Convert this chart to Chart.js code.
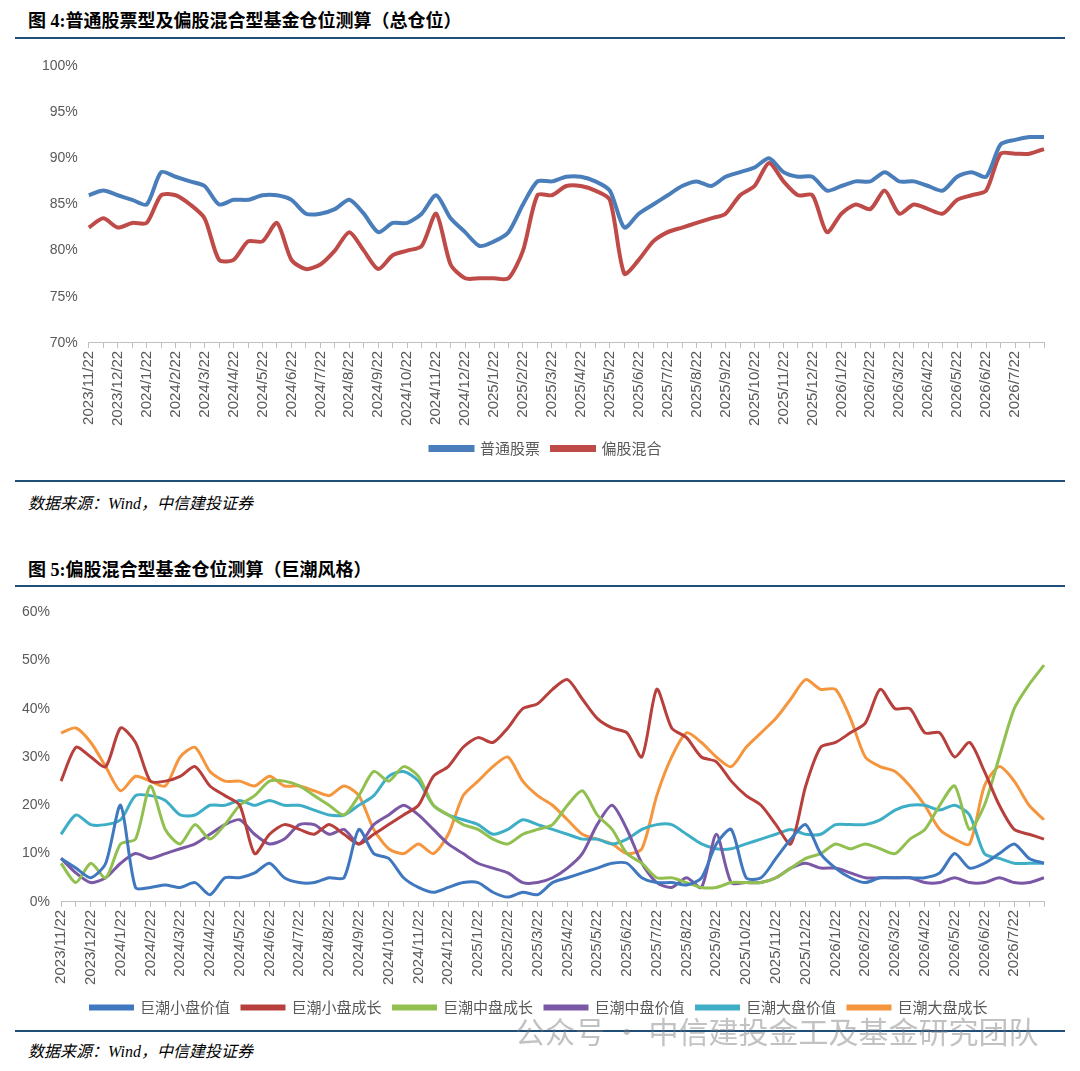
<!DOCTYPE html>
<html lang="zh-CN">
<head>
<meta charset="UTF-8">
<title>仓位测算</title>
<style>
  body { margin: 0; background: #fff; width: 1080px; height: 1071px; position: relative; overflow: hidden; font-family: "Noto Sans CJK SC", sans-serif; }
  .title { position: absolute; left: 28px; font-family: "Liberation Serif", "Noto Sans CJK SC", serif; font-weight: bold; font-size: 18px; color: #000; }
  .rule { position: absolute; left: 15px; width: 1050px; height: 2px; background: #1f4e79; }
  .src { position: absolute; left: 28px; font-family: "Liberation Serif", "Noto Sans CJK SC", serif; font-style: italic; font-size: 16px; color: #000; }
  .box { position: absolute; left: 15px; width: 1050px; }
  .wm { position: absolute; left: 515px; top: 1008px; font-size: 30px; color: rgba(120,120,120,0.45); }
</style>
</head>
<body>
<div class="title" style="top:6px">图 4:普通股票型及偏股混合型基金仓位测算（总仓位）</div>
<div class="rule" style="top:37px"></div>
<div class="box" style="top:42px;height:430px"><canvas id="grafico1"></canvas></div>
<div class="rule" style="top:480px"></div>
<div class="src" style="top:490px">数据来源：Wind，中信建投证券</div>

<div class="title" style="top:555px">图 5:偏股混合型基金仓位测算（巨潮风格）</div>
<div class="rule" style="top:585px"></div>
<div class="box" style="top:590px;height:435px"><canvas id="grafico2"></canvas></div>
<div class="rule" style="top:1030px"></div>
<div class="src" style="top:1038px">数据来源：Wind，中信建投证券</div>
<div class="wm">公众号 · 中信建投金工及基金研究团队</div>

<script src="https://cdn.jsdelivr.net/npm/chart.js"></script>
<script>
  const ticksX = ["2023/11/22","2023/12/22","2024/1/22","2024/2/22","2024/3/22","2024/4/22","2024/5/22","2024/6/22","2024/7/22","2024/8/22","2024/9/22","2024/10/22","2024/11/22","2024/12/22","2025/1/22","2025/2/22","2025/3/22","2025/4/22","2025/5/22","2025/6/22","2025/7/22","2025/8/22","2025/9/22","2025/10/22","2025/11/22","2025/12/22","2026/1/22","2026/2/22","2026/3/22","2026/4/22","2026/5/22","2026/6/22","2026/7/22"]

  const putong = [86,86.5,86,85.5,85,88.5,88,87.5,87,85, 85.5,85.5,86,86,85.5,84,84,84.5,85.5,84, 82,83,83,84,86,83.5,82,80.5,81,82, 85,87.5,87.5,88,88,87.5,86.5,82.5,84,85, 86,87,87.5,87,88,88.5,89,90,88.5,88, 88,86.5,87,87.5,87.5,88.5,87.5,87.5,87,86.5, 88,88.5,88,91.5,92,92.3,92.3]
  const piangu = [82.5,83.5,82.5,83,83,86,86,85,83.5,79, 79,81,81,83,79,78,78.5,80,82,80, 78,79.5,80,80.5,84,78.5,77,77,77,77, 80,86,86,87,87,86.5,85.5,77.5,79,81, 82,82.5,83,83.5,84,86,87,89.5,87.5,86, 86,82,84,85,84.5,86.5,84,85,84.5,84, 85.5,86,86.5,90.5,90.5,90.5,91]

  const xpjz = [9,7,5,8,20,3,3,3.5,3,4, 1.5,5,5,6,8,5,4,4,5,5, 15,10,9,5,3,2,3,4,4,2, 1,2,1.5,4,5,6,7,8,8,5, 4,4,3.5,5,12,15,5,5,9,13, 16,10,7,5,4,5,5,5,5,6, 10,7,8,10,12,9,8]
  const xpcz = [25,32,30,28,36,33,25,25,26,28, 24,22,20,10,14,16,15,14,16,14, 12,14,16,18,20,26,28,32,34,33, 36,40,41,44,46,42,38,36,35,30, 44,36,34,30,29,25,22,20,16,12, 24,32,33,35,37,44,40,40,35,35, 30,33,27,20,15,14,13]
  const zpcz = [8,4,8,5,12,13,24,15,12,16, 13,16,20,22,25,25,24,22,20,18, 22,27,25,28,26,20,18,16,15,13, 12,14,15,16,20,23,18,15,10,8, 5,5,4,3,3,4,4,4,5,7, 9,10,12,11,12,11,10,13,15,20, 24,15,20,30,40,45,49]
  const zpjz = [9,6,4,5,8,10,9,10,11,12, 14,16,17,14,12,13,16,16,14,15, 12,16,18,20,18,15,12,10,8,7, 6,4,4,5,7,10,16,20,15,8, 4,3,5,3,14,4,4,4,5,7, 8,7,7,6,5,5,5,5,4,4, 5,4,4,5,4,4,5]
  const dpjz = [14,18,16,16,17,22,22,21,18,18, 20,20,21,20,21,20,20,19,18,18, 20,22,26,27,25,20,18,17,16,14, 15,17,16,15,14,13,13,12,13,15, 16,16,14,12,11,11,12,13,14,15, 14,14,16,16,16,17,19,20,20,19, 20,18,10,9,8,8,8]
  const dpcz = [35,36,33,28,23,26,25,24,30,32, 27,25,25,24,26,24,24,23,22,24, 22,15,11,10,12,10,14,22,25,28, 30,25,22,20,17,14,13,12,10,11, 22,30,35,33,30,28,32,35,38,42, 46,44,44,38,30,28,27,24,20,15, 13,12,24,28,25,20,17]

  // half-month points: tick label then an unlabelled midpoint
  let labelsX = []
  ticksX.forEach(t => { labelsX.push(t); labelsX.push('') })
  while (labelsX.length < putong.length) labelsX.push('')

  const tickFont = { family: "Liberation Sans, Noto Sans CJK SC", size: 14 }
  const xFont = { family: "Liberation Sans, Noto Sans CJK SC", size: 15 }

  let eixoX = {
    offset: false,
    grid: { display: true, drawOnChartArea: false, color: '#bfbfbf', tickLength: 5 },
    border: { color: '#bfbfbf' },
    ticks: { autoSkip: false, maxRotation: 90, minRotation: 90, color: '#595959', font: xFont }
  }

  let legenda = {
    position: 'bottom',
    labels: { boxWidth: 42, boxHeight: 3, color: '#595959', font: { family: "Noto Sans CJK SC", size: 15 }, padding: 12 }
  }

  let grafico1 = new Chart(document.getElementById('grafico1'), {
    type: 'line',
    data: {
      labels: labelsX,
      datasets: [
        { label: '普通股票', data: putong, borderColor: '#4a7ebb', backgroundColor: '#4a7ebb', borderWidth: 4, pointRadius: 0, tension: 0.25 },
        { label: '偏股混合', data: piangu, borderColor: '#be4b48', backgroundColor: '#be4b48', borderWidth: 4, pointRadius: 0, tension: 0.25 }
      ]
    },
    options: {
      animation: false, responsive: true, maintainAspectRatio: false,
      layout: { padding: { left: 24, right: 12, top: 24, bottom: 6 } },
      plugins: { legend: legenda, tooltip: { enabled: false } },
      scales: {
        x: eixoX,
        y: {
          min: 70, max: 100,
          grid: { display: false }, border: { display: false },
          ticks: { stepSize: 5, color: '#595959', font: tickFont, callback: v => v + '%' }
        }
      }
    }
  })

  let cores = ['#3f78bf', '#b8403c', '#92c050', '#7a58a6', '#3eaec6', '#f5963f']
  let nomes = ['巨潮小盘价值', '巨潮小盘成长', '巨潮中盘成长', '巨潮中盘价值', '巨潮大盘价值', '巨潮大盘成长']
  let series = [xpjz, xpcz, zpcz, zpjz, dpjz, dpcz]

  let grafico2 = new Chart(document.getElementById('grafico2'), {
    type: 'line',
    data: {
      labels: labelsX,
      datasets: series.map((d, i) => ({ label: nomes[i], data: d, borderColor: cores[i], backgroundColor: cores[i], borderWidth: 3, pointRadius: 0, tension: 0.25 }))
    },
    options: {
      animation: false, responsive: true, maintainAspectRatio: false,
      layout: { padding: { left: 4, right: 6, top: 22, bottom: 0 } },
      plugins: { legend: legenda, tooltip: { enabled: false } },
      scales: {
        x: eixoX,
        y: {
          min: 0, max: 60,
          grid: { display: false }, border: { display: false },
          ticks: { stepSize: 10, color: '#595959', font: tickFont, callback: v => v + '%' }
        }
      }
    }
  })
</script>
</body>
</html>
